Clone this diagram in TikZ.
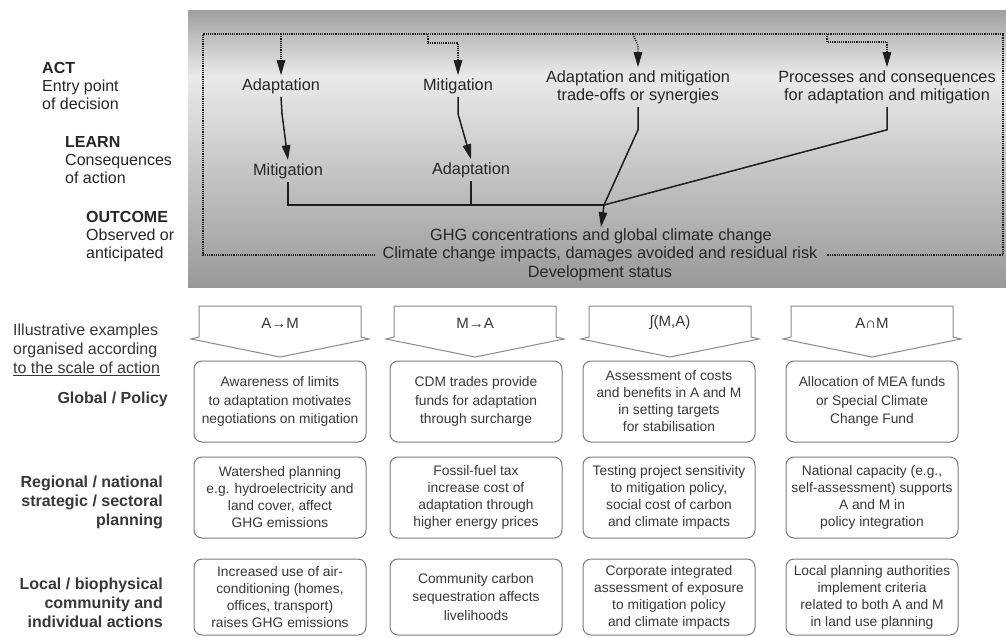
\documentclass[tikz,border=0pt]{standalone}
\usepackage{fontspec}
\setmainfont{Liberation Sans}
\usetikzlibrary{arrows.meta}
\definecolor{txt}{HTML}{262626}
\definecolor{txtb}{HTML}{383838}
\definecolor{linec}{HTML}{1E1E1E}
\definecolor{pentc}{HTML}{8A8A8A}
\definecolor{boxc}{HTML}{7A7A7A}
\definecolor{gdark}{HTML}{A0A0A0}
\definecolor{glight}{HTML}{EAEAEA}
\definecolor{gbot}{HTML}{999999}
\begin{document}
\begin{tikzpicture}[x=1pt,y=-1pt,
  toptext/.style={font=\fontsize{16.3}{18}\selectfont, text=txt, align=center, inner sep=3pt},
  sidelab/.style={font=\fontsize{16}{18}\selectfont, text=txt, align=left, anchor=west, inner sep=0pt},
  conn/.style={draw=linec, line width=1.5pt},
  dotc/.style={draw=linec, line width=1.4pt, dash pattern=on 1.1pt off 1.1pt},
  tip/.style={-{Triangle[length=15pt,width=8.5pt]}},
  pent/.style={draw=pentc, line width=1pt},
  pentlab/.style={font=\fontsize{15}{18}\selectfont, text=txtb, inner sep=0pt},
  exbox/.style={draw=boxc, line width=1pt, rounded corners=8pt, minimum width=172pt, minimum height=81pt, align=center, font=\fontsize{13.8}{17}\selectfont, text=txtb, inner sep=0pt},
  rowlab/.style={font=\bfseries\fontsize{16}{19}\selectfont, align=right, anchor=east, text=txtb, inner sep=0pt}]
\useasboundingbox (0,0) rectangle (1006,637);
\fill[white] (0,0) rectangle (1006,637);
% grey panel
\shade[top color=gdark, bottom color=glight] (188,10) rectangle (1006,76);
\shade[top color=glight, bottom color=gbot] (188,75) rectangle (1006,287);

% left labels (top)
\node[sidelab] (lact) at (42,86) {\textbf{ACT}\\Entry point\\of decision};
\node[sidelab] (llearn) at (65,160) {\textbf{LEARN}\\Consequences\\of action};
\node[sidelab] (lout) at (86,237) {\textbf{OUTCOME}\\Observed or\\anticipated};

% act nodes
\node[toptext] (act1) at (281,86) {Adaptation};
\node[toptext] (act2) at (458,86) {Mitigation};
\node[toptext] (act3) at (638,87) {Adaptation and mitigation\\trade-offs or synergies};
\node[toptext] (act4) at (887,87) {Processes and consequences\\for adaptation and mitigation};
% learn nodes
\node[toptext] (learn1) at (288,171) {Mitigation};
\node[toptext] (learn2) at (471,170) {Adaptation};
% outcome nodes
\node[toptext, inner sep=1pt] (out1) at (601,236) {GHG concentrations and global climate change};
\node[toptext, inner sep=1pt] (out2) at (600,254) {Climate change impacts, damages avoided and residual risk};
\node[toptext, inner sep=1pt] (out3) at (600,273) {Development status};

% dotted frame
\coordinate (bl) at (203,255);
\coordinate (tl) at (203,34);
\coordinate (tr) at (1003,34);
\coordinate (br) at (1003,255);
\draw[dotc] ([xshift=-6pt]bl -| out2.west) -- (bl) -- (tl) -- (tr) -- (br) -- ([xshift=8pt]br -| out2.east);

% entry connectors
\coordinate (e1) at (281,34);
\coordinate (e2) at (428,34);
\coordinate (e3) at (633,34);
\coordinate (e4) at (827,34);
\draw[dotc, tip] (e1) -- (act1.north);
\draw[dotc, tip] (e2) -- (428,43) -- (458,43) -- (act2.north);
\draw[dotc, tip] (e3) -- (638,46) -- (act3.north);
\draw[dotc, tip] (e4) -- (827,42) -- (887,42) -- (act4.north);

% learn connectors
\draw[conn, tip] (act1.south) -- ++(1,17) -- (learn1.north);
\draw[conn, tip] (act2.south) -- ++(0,17) -- (learn2.north);

% outcome connectors
\coordinate (j) at (604,205);
\draw[conn] (learn1.south) -- (learn1.south |- j) -- (j);
\draw[conn] (learn2.south) -- (learn2.south |- j);
\draw[conn] (act3.south) -- ++(0,23) -- (j);
\draw[conn] (act4.south) -- ++(0,23) -- (j);
\draw[conn, tip] (j) -- (out1.north);

% bottom left labels
\node[sidelab, font=\fontsize{16}{19}\selectfont, text=txtb] (lill) at (13,350) {Illustrative examples\\organised according\\\underline{to the scale of action}};
\node[rowlab] (lglob) at (168,399) {Global / Policy};
\node[rowlab] (lreg) at (163,502) {Regional / national\\strategic / sectoral\\planning};
\node[rowlab] (lloc) at (163,603) {Local / biophysical\\community and\\individual actions};

% pentagon headers
\foreach \c/\l/\n in {280/{A→M}/p1, 475/{M→A}/p2, 670/{∫(M,A)}/p3, 872/{A∩M}/p4} {
  \draw[pent] (\c-81,306) -- (\c+81,306) -- (\c+81,337) -- (\c+89,339) -- (\c,357) -- (\c-89,339) -- (\c-81,337) -- cycle;
  \node[pentlab] (\n) at (\c,323) {\l};
}

% example boxes
\node[exbox, font=\fontsize{13.8}{18.5}\selectfont] (b11) at (280,401.5) {Awareness of limits\\to adaptation motivates\\negotiations on mitigation};
\node[exbox, font=\fontsize{13.8}{18.5}\selectfont] (b12) at (476,401.5) {CDM trades provide\\funds for adaptation\\through surcharge};
\node[exbox] (b13) at (669,401.5) {Assessment of costs\\and benefits in A and M\\in setting targets\\for stabilisation};
\node[exbox, font=\fontsize{13.8}{18.5}\selectfont] (b14) at (872,401.5) {Allocation of MEA funds\\or Special Climate\\Change Fund};

\node[exbox] (b21) at (280,497.5) {Watershed planning\\e.g. hydroelectricity and\\land cover, affect\\GHG emissions};
\node[exbox] (b22) at (476,497.5) {Fossil-fuel tax\\increase cost of\\adaptation through\\higher energy prices};
\node[exbox] (b23) at (669,497.5) {Testing project sensitivity\\to mitigation policy,\\social cost of carbon\\and climate impacts};
\node[exbox] (b24) at (872,497.5) {National capacity (e.g.,\\self-assessment) supports\\A and M in\\policy integration};

\node[exbox, minimum height=76pt] (b31) at (280,597) {Increased use of air-\\conditioning (homes,\\offices, transport)\\raises GHG emissions};
\node[exbox, minimum height=76pt, font=\fontsize{13.8}{18.5}\selectfont] (b32) at (476,597) {Community carbon\\sequestration affects\\livelihoods};
\node[exbox, minimum height=76pt] (b33) at (669,597) {Corporate integrated\\assessment of exposure\\to mitigation policy\\and climate impacts};
\node[exbox, minimum height=76pt] (b34) at (872,597) {Local planning authorities\\implement criteria\\related to both A and M\\in land use planning};
\end{tikzpicture}
\end{document}
